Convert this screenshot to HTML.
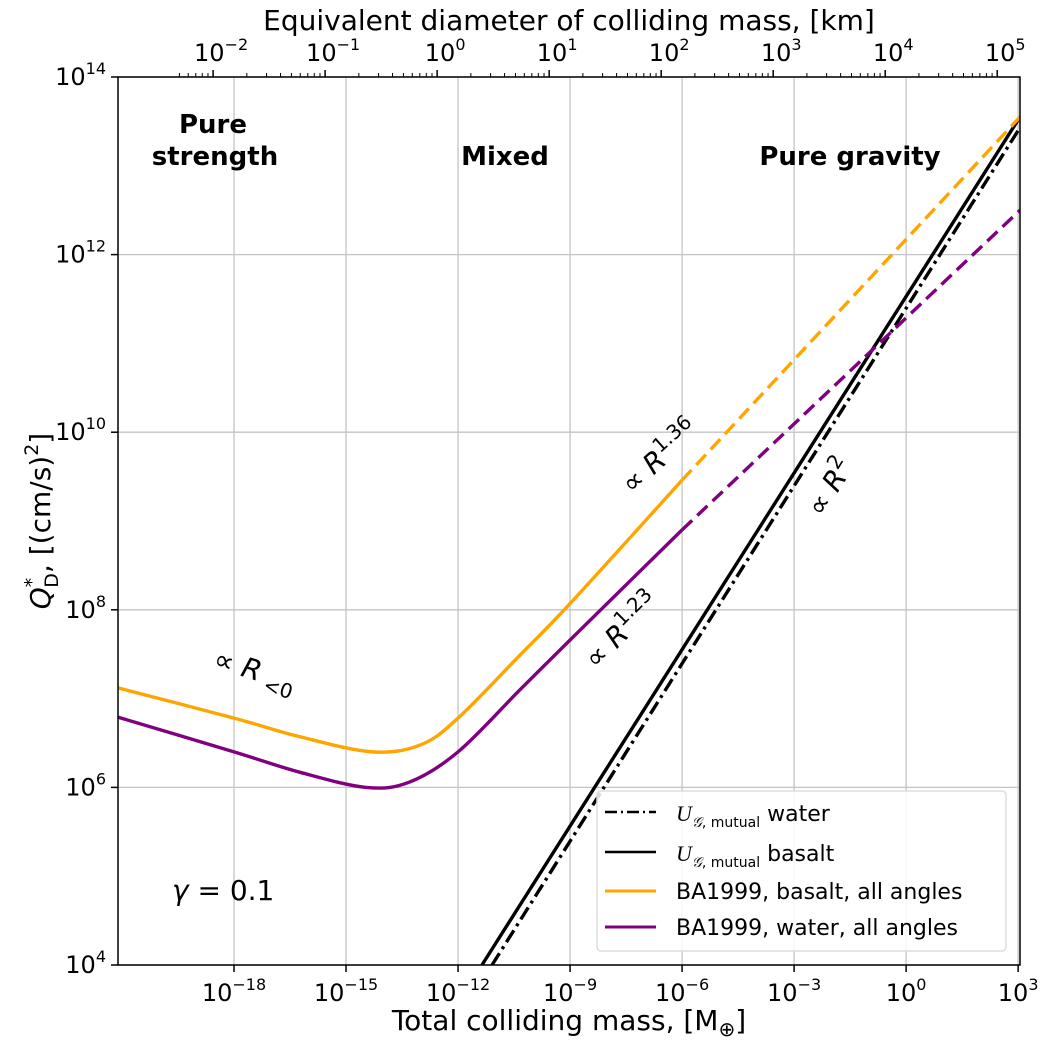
<!DOCTYPE html>
<html><head><meta charset="utf-8"><style>
body{margin:0;background:#fff;}
svg text{font-family:"DejaVu Sans","Liberation Sans",sans-serif;fill:#000;}
</style></head><body>
<svg id="chart" width="1050" height="1047" xmlns="http://www.w3.org/2000/svg">
<g id="grid"></g>
<g id="series"></g>
<rect x="118" y="77" width="902" height="888" fill="none" stroke="#000" stroke-width="1.5"/>
<g id="axes"></g>
<text x="569" y="1030" font-size="28" text-anchor="middle">Total colliding mass, [M<tspan font-size="20" dy="6">⊕</tspan><tspan dy="-6">]</tspan></text>
<text x="569" y="30" font-size="28" text-anchor="middle">Equivalent diameter of colliding mass, [km]</text>
<text transform="translate(50,521) rotate(-90)" font-size="28" text-anchor="middle"><tspan font-style="italic">Q</tspan><tspan font-size="19" dy="-12">*</tspan><tspan font-size="19" dx="-10" dy="20">D</tspan><tspan dy="-8">, [(cm/s)</tspan><tspan font-size="19" dy="-12">2</tspan><tspan dy="12">]</tspan></text>
<text x="213" y="133" font-size="26" font-weight="bold" text-anchor="middle">Pure</text>
<text x="215" y="165" font-size="26" font-weight="bold" text-anchor="middle">strength</text>
<text x="505" y="165" font-size="26" font-weight="bold" text-anchor="middle">Mixed</text>
<text x="850" y="165" font-size="26" font-weight="bold" text-anchor="middle">Pure gravity</text>
<text x="172" y="900" font-size="28"><tspan font-style="italic">γ</tspan> = 0.1</text>
<text transform="translate(632,495) rotate(-42)" font-size="28">∝ <tspan font-style="italic">R</tspan><tspan font-size="20" dy="-12">1.36</tspan></text>
<text transform="translate(596,670) rotate(-45)" font-size="28">∝ <tspan font-style="italic">R</tspan><tspan font-size="20" dy="-12">1.23</tspan></text>
<text transform="translate(822,518) rotate(-58)" font-size="28">∝ <tspan font-style="italic">R</tspan><tspan font-size="20" dy="-12">2</tspan></text>
<text transform="translate(212,667) rotate(17)" font-size="28">∝ <tspan font-style="italic">R</tspan><tspan font-size="20" dy="8"> &lt;0</tspan></text>
<g>
<rect x="597" y="791" width="409" height="160" rx="4" fill="#fff" fill-opacity="0.85" stroke="#ddd" stroke-width="1.5"/>
<line x1="605" y1="812" x2="656" y2="812" stroke="#000" stroke-width="2.5" stroke-dasharray="12,4,2,4"/>
<text x="676" y="821" font-size="22"><tspan font-style="italic" font-family="Liberation Serif">U</tspan><tspan font-size="14" dy="6" font-style="italic">𝒢</tspan><tspan font-size="14" dy="0">, mutual</tspan><tspan dy="-6"> water</tspan></text>
<line x1="605" y1="852" x2="656" y2="852" stroke="#000" stroke-width="2.5"/>
<text x="676" y="861" font-size="22"><tspan font-style="italic" font-family="Liberation Serif">U</tspan><tspan font-size="14" dy="6" font-style="italic">𝒢</tspan><tspan font-size="14">, mutual</tspan><tspan dy="-6"> basalt</tspan></text>
<line x1="605" y1="891" x2="656" y2="891" stroke="#FFA500" stroke-width="3"/>
<text x="676" y="899" font-size="22">BA1999, basalt, all angles</text>
<line x1="605" y1="927" x2="656" y2="927" stroke="#800080" stroke-width="3"/>
<text x="676" y="935" font-size="22">BA1999, water, all angles</text>
</g>
</svg>
<script>
// data (log10 values)
const orangeM = [-21.1,-18,-16.23,-14.3,-13,-12,-10.34,-9,-6];
const orangeQ = [7.12,6.78,6.57,6.40,6.48,6.78,7.49,8.07,9.46];
const orangeDashM = [-6,3.05];
const orangeDashQ = [9.46,13.55];
const purpleM = [-21.1,-18,-16.23,-14.46,-13.3,-12,-10.34,-9,-6];
const purpleQ = [6.79,6.40,6.17,6.0,6.06,6.40,7.10,7.66,8.90];
const purpleDashM = [-6,3.05];
const purpleDashQ = [8.90,12.5];
const basaltM = [-11.36,3.05];
const basaltQ = [4,13.55];
const waterM = [-11.09,3.05];
const waterQ = [4,13.43];
const xTicks = [-18,-15,-12,-9,-6,-3,0,3];
const yTicks = [4,6,8,10,12,14];
const topTicks = [-2,-1,0,1,2,3,4,5];

const NS='http://www.w3.org/2000/svg';
const L=118,R=1020,T=77,B=965;
const xMin=-21.107,xMax=3.05,yMin=4,yMax=14;
const sx=v=>L+(v-xMin)/(xMax-xMin)*(R-L);
const sy=v=>B-(v-yMin)/(yMax-yMin)*(B-T);
const dToM=d=>3*d-12.56;
function mk(tag,attrs,parent){const e=document.createElementNS(NS,tag);for(const k in attrs)e.setAttribute(k,attrs[k]);parent.appendChild(e);return e;}
const grid=document.getElementById('grid'),axes=document.getElementById('axes'),ser=document.getElementById('series');
xTicks.forEach(v=>{const x=sx(v);
 const g=mk('line',{x1:x,x2:x,y1:T,y2:B,stroke:'#c4c4c4','stroke-width':1.3},grid);
 
 
 const t=mk('line',{x1:x,x2:x,y1:B,y2:B+7,stroke:'#000','stroke-width':1.5},axes);
 
 
 const tx=mk('text',{x:x,y:B+36,'font-size':24,'text-anchor':'middle'},axes);
 
 
 tx.innerHTML='10<tspan font-size="16" dy="-11">'+(v<0?'−'+(-v):v)+'</tspan>';
});
yTicks.forEach(v=>{const y=sy(v);
 const g=mk('line',{x1:L,x2:R,y1:y,y2:y,stroke:'#c4c4c4','stroke-width':1.3},grid);
 
 
 const t=mk('line',{x1:L-7,x2:L,y1:y,y2:y,stroke:'#000','stroke-width':1.5},axes);
 
 
 const tx=mk('text',{x:L-12,y:y+8,'font-size':24,'text-anchor':'end'},axes);
 
 
 tx.innerHTML='10<tspan font-size="16" dy="-11">'+v+'</tspan>';
});
topTicks.forEach(v=>{const x=sx(dToM(v));
 const t=mk('line',{x1:x,x2:x,y1:T,y2:T-7,stroke:'#000','stroke-width':1.5},axes);
 
 
 for(let k=2;k<10;k++){const xm=sx(dToM(v+Math.log10(k)));if(xm<=R){
  const m=mk('line',{x1:xm,x2:xm,y1:T,y2:T-4,stroke:'#000','stroke-width':1},axes);
  
  }}
 const tx=mk('text',{x:x+8,y:T-16,'font-size':24,'text-anchor':'middle'},axes);
 
 
 tx.innerHTML='10<tspan font-size="16" dy="-11">'+(v<0?'−'+(-v):v)+'</tspan>';
});
for(let k=5;k<10;k++){const xm=sx(dToM(-3+Math.log10(k)));if(xm>=L){
 const m=mk('line',{x1:xm,x2:xm,y1:T,y2:T-4,stroke:'#000','stroke-width':1},axes);
 
 }}
function smooth(ms,qs){const p=ms.map((m,i)=>[sx(m),sy(qs[i])]);let d='M'+p[0][0]+','+p[0][1];
 for(let i=0;i<p.length-1;i++){const p0=p[i-1]||p[i],p1=p[i],p2=p[i+1],p3=p[i+2]||p2;
  const c1=[p1[0]+(p2[0]-p0[0])/6,p1[1]+(p2[1]-p0[1])/6],c2=[p2[0]-(p3[0]-p1[0])/6,p2[1]-(p3[1]-p1[1])/6];
  d+=' C'+c1+' '+c2+' '+p2;}return d;}
const clip=mk('clipPath',{id:'pc'},ser);mk('rect',{x:L,y:T,width:R-L,height:B-T},clip);
function path(d,stroke,dash,name){const e=mk('path',{d:d,fill:'none',stroke:stroke,'stroke-width':3.4,'clip-path':'url(#pc)'},ser);
 if(dash)e.setAttribute('stroke-dasharray',dash);
 
 }
path(smooth(waterM,waterQ),'#000','14,5,3,5','line-u-water');
path(smooth(basaltM,basaltQ),'#000',null,'line-u-basalt');
path(smooth(orangeM,orangeQ),'#FFA500',null,'curve-ba-basalt');
path(smooth(orangeDashM,orangeDashQ),'#FFA500','14,7','curve-ba-basalt-extrapolated');
path(smooth(purpleM,purpleQ),'#800080',null,'curve-ba-water');
path(smooth(purpleDashM,purpleDashQ),'#800080','14,7','curve-ba-water-extrapolated');
</script>
</body></html>
